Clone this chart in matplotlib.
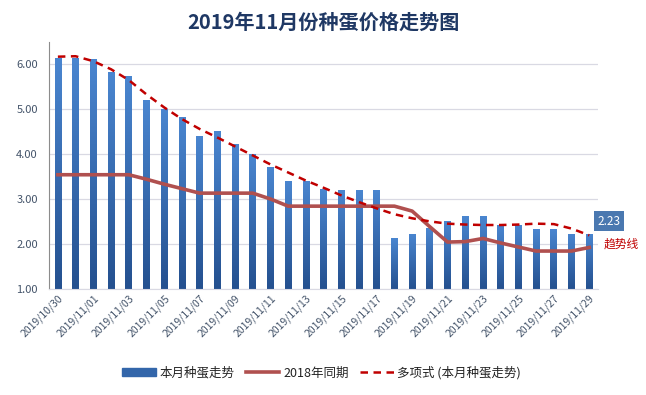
import numpy as np
import matplotlib
matplotlib.use("Agg")
import matplotlib.pyplot as plt
from matplotlib.colors import LinearSegmentedColormap
from matplotlib.patches import Patch

plt.rcParams['font.family'] = ['Noto Sans CJK SC', 'DejaVu Sans']

# 日期: 2019/10/30 .. 2019/11/29
dates = ["2019/10/30", "2019/10/31"] + ["2019/11/%02d" % d for d in range(1, 30)]

# 本月种蛋价格
price_2019 = [6.13, 6.13, 6.12, 5.82, 5.73, 5.21, 5.01, 4.82, 4.41, 4.52,
              4.22, 4.01, 3.72, 3.41, 3.41, 3.22, 3.21, 3.21, 3.21, 2.13,
              2.23, 2.35, 2.52, 2.62, 2.62, 2.42, 2.42, 2.33, 2.33, 2.23,
              2.23]
# 2018年同期
price_2018 = [3.54, 3.54, 3.54, 3.54, 3.54, 3.44, 3.33, 3.23, 3.13, 3.13,
              3.13, 3.13, 3.00, 2.84, 2.84, 2.84, 2.84, 2.84, 2.84, 2.84,
              2.73, 2.38, 2.04, 2.05, 2.12, 2.02, 1.93, 1.84, 1.84, 1.84,
              1.92]
# 多项式趋势线
trend = [6.17, 6.18, 6.07, 5.89, 5.65, 5.33, 5.04, 4.78, 4.56, 4.37,
         4.17, 3.97, 3.77, 3.59, 3.41, 3.25, 3.08, 2.93, 2.79, 2.66,
         2.57, 2.50, 2.45, 2.43, 2.42, 2.42, 2.43, 2.45, 2.44, 2.34,
         2.19]

x = np.arange(len(dates))

fig = plt.figure(figsize=(6.46, 3.95), dpi=100)
ax = fig.add_axes([0.0759, 0.269, 0.850, 0.625])

bars = ax.bar(x, price_2019, width=0.38, bottom=0, color="none", zorder=2)
# 渐变填充
cmap = LinearSegmentedColormap.from_list("blu", ["#24508f", "#4a86d0"])
grad = np.linspace(0, 1, 256).reshape(-1, 1)
for b in bars:
    x0, w, h = b.get_x(), b.get_width(), b.get_height()
    im = ax.imshow(grad, cmap=cmap, aspect="auto", origin="lower",
                   extent=[x0, x0 + w, 1.0, h], zorder=2)
    im.set_clip_path(b)

l18, = ax.plot(x, price_2018, color="#b0504f", lw=2.6, zorder=3)
ltr, = ax.plot(x, trend, color="#c00000", lw=1.8, ls=(0, (3.0, 2.2)), zorder=4)

ax.set_xlim(-0.5, len(dates) - 0.5)
ax.set_ylim(1, 6.5)
ax.set_yticks([1, 2, 3, 4, 5, 6])
ax.set_yticklabels(["%.2f" % v for v in [1, 2, 3, 4, 5, 6]])
ax.set_xticks(x[::2])
ax.set_xticklabels(dates[::2], rotation=45, ha="right", rotation_mode="anchor")
ax.tick_params(axis="x", length=0, labelsize=7.5, colors="#44546a", pad=3)
ax.tick_params(axis="y", length=0, labelsize=8, colors="#44546a", pad=8)
ax.grid(axis="y", color="#d9d9e3", lw=0.9, zorder=0)
ax.set_axisbelow(True)
for s in ["top", "right"]:
    ax.spines[s].set_visible(False)
ax.spines["left"].set_color("#8c8c8c")
ax.spines["bottom"].set_color("#d9d9e3")

fig.text(0.5, 0.944, "2019年11月份种蛋价格走势图", ha="center", va="center",
         fontsize=14.5, fontweight="bold", color="#1f3864")

ax.text(31.1, price_2019[-1] + 0.27, "%.2f" % price_2019[-1], ha="center", va="center",
        fontsize=8.5, color="white",
        bbox=dict(boxstyle="square,pad=0.3", fc="#4a78b0", ec="none"),
        zorder=5, clip_on=False)
ax.text(31.8, 2.0, "趋势线", ha="center", va="center", fontsize=8.5,
        color="#c00000", clip_on=False)

handles = [Patch(color="#3366aa"), l18, ltr]
labels = ["本月种蛋走势", "2018年同期", "多项式 (本月种蛋走势)"]
ax.legend(handles, labels, loc="center", bbox_to_anchor=(0.496, -0.34), ncol=3,
          frameon=False, fontsize=9, handlelength=2.7, handleheight=0.5,
          columnspacing=0.9, handletextpad=0.3, labelcolor="#222222")

fig.savefig("out.png", dpi=100)
